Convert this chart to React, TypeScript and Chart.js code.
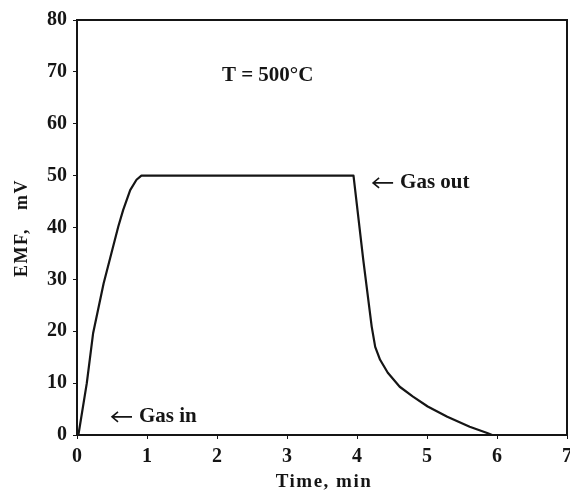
import React, { useEffect, useRef } from "react";
import { Chart, registerables } from "chart.js";

Chart.register(...registerables);

// Time (min) and EMF (mV) readings for the sensor response at 500 °C
const timeMin = [
  0.02, 0.14, 0.23, 0.38, 0.59, 0.66, 0.76, 0.85, 0.92,
  3.95, 4.09, 4.21, 4.26, 4.33, 4.44, 4.61, 4.8, 5.01, 5.29, 5.61, 5.86, 5.93, 7.0,
];
const emfMv = [
  0, 10, 19.6, 29.2, 40.2, 43.4, 47.2, 49.2, 50,
  50, 33.7, 20.9, 17.0, 14.5, 12.0, 9.3, 7.4, 5.5, 3.5, 1.6, 0.4, 0, 0,
];

const xTicks = [0, 1, 2, 3, 4, 5, 6, 7];
const yTicks = [0, 10, 20, 30, 40, 50, 60, 70, 80];

const xTitle = "Time, min";
const yTitle = "EMF,   mV";

// Text notes placed in data coordinates; arrow marks a note that points left
const notes = [
  { text: "T = 500°C", x: 2.07, y: 69.3, arrow: false },
  { text: "Gas out", x: 4.23, y: 48.6, arrow: true },
  { text: "Gas in", x: 0.5, y: 3.5, arrow: true },
];

const FONT = "'Liberation Serif', 'Times New Roman', serif";
const INK = "#151515";

const framePlugin = {
  id: "frameAndNotes",
  afterDraw(chart: any) {
    const { ctx, chartArea, scales } = chart;
    ctx.save();
    ctx.strokeStyle = INK;
    ctx.lineWidth = 2;
    ctx.strokeRect(chartArea.left, chartArea.top, chartArea.right - chartArea.left, chartArea.bottom - chartArea.top);

    ctx.fillStyle = INK;
    ctx.textBaseline = "middle";
    ctx.textAlign = "left";
    ctx.font = `bold 21px ${FONT}`;
    for (const n of notes) {
      let px = scales.x.getPixelForValue(n.x);
      const py = scales.y.getPixelForValue(n.y);
      if (n.arrow) {
        // thin left-pointing arrow in front of the note
        ctx.lineWidth = 1.6;
        ctx.beginPath();
        ctx.moveTo(px + 20, py);
        ctx.lineTo(px, py);
        ctx.moveTo(px + 6, py - 5);
        ctx.lineTo(px, py);
        ctx.lineTo(px + 6, py + 5);
        ctx.stroke();
        px += 27;
      }
      ctx.fillText(n.text, px, py);
    }

    // axis titles
    (ctx as any).letterSpacing = "1.5px";
    ctx.font = `bold 19px ${FONT}`;
    ctx.textAlign = "center";
    ctx.textBaseline = "alphabetic";
    ctx.fillText(xTitle, (chartArea.left + chartArea.right) / 2 + 2, 487);

    ctx.font = `bold 18px ${FONT}`;
    ctx.translate(27, 228);
    ctx.rotate(-Math.PI / 2);
    ctx.fillText(yTitle, 0, 0);
    ctx.restore();
  },
};

export default function App() {
  const ref = useRef<HTMLCanvasElement>(null);

  useEffect(() => {
    if (!ref.current) return;
    const chart = new Chart(ref.current, {
      type: "line",
      data: {
        datasets: [
          {
            data: timeMin.map((t, i) => ({ x: t, y: emfMv[i] })),
            borderColor: INK,
            borderWidth: 2.2,
            pointRadius: 0,
            tension: 0,
            borderJoinStyle: "round",
            fill: false,
          },
        ],
      },
      options: {
        animation: false,
        responsive: false,
        maintainAspectRatio: false,
        layout: { autoPadding: false, padding: { top: 20, right: 3, left: 0, bottom: 0 } },
        plugins: { legend: { display: false }, tooltip: { enabled: false } },
        scales: {
          x: {
            type: "linear",
            min: 0,
            max: 7,
            afterFit: (s: any) => {
              s.height = 61;
              s.paddingLeft = 0;
              s.paddingRight = 0;
            },
            afterBuildTicks: (s: any) => {
              s.ticks = xTicks.map((v) => ({ value: v }));
            },
            grid: { drawOnChartArea: false, drawTicks: true, tickLength: 4, color: INK, lineWidth: 1 },
            border: { color: INK, width: 2 },
            ticks: { color: INK, font: { family: FONT, size: 20, weight: "bold" }, padding: 6, maxRotation: 0 },
          },
          y: {
            type: "linear",
            min: 0,
            max: 80,
            afterFit: (s: any) => {
              s.width = 77;
              s.paddingTop = 0;
              s.paddingBottom = 0;
            },
            afterBuildTicks: (s: any) => {
              s.ticks = yTicks.map((v) => ({ value: v }));
            },
            grid: { drawOnChartArea: false, drawTicks: true, tickLength: 4, color: INK, lineWidth: 1 },
            border: { color: INK, width: 2 },
            ticks: { color: INK, font: { family: FONT, size: 20, weight: "bold" }, padding: 6 },
          },
        },
      },
      plugins: [framePlugin],
    });
    return () => chart.destroy();
  }, []);

  return (
    <div style={{ position: "fixed", left: 0, top: 0, width: 570, height: 496, background: "#fff" }}>
      <canvas ref={ref} width={570} height={496} style={{ display: "block", width: 570, height: 496 }} />
    </div>
  );
}
